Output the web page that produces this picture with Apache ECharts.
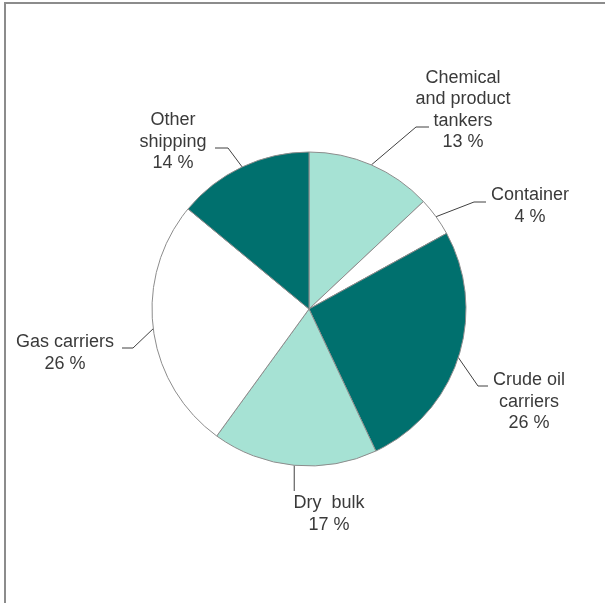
<!DOCTYPE html>
<html>
<head>
<meta charset="utf-8">
<script src="https://cdn.jsdelivr.net/npm/echarts@6/dist/echarts.min.js"></script>
<style>
  html, body { margin: 0; padding: 0; background: #fff; }
  #chart { width: 605px; height: 603px; }
</style>
</head>
<body>
<div id="chart"></div>
<script>
// data
var categories = ["Chemical\nand product\ntankers", "Container", "Crude oil\ncarriers", "Dry  bulk", "Gas carriers", "Other\nshipping"];
var shares = [13, 4, 26, 17, 26, 14];
var sliceColors = ["#a6e2d4", "#ffffff", "#00706e", "#a6e2d4", "#ffffff", "#00706e"];

// label block centres and leader line bends (px)
var labelPos = [
  { x: 463, y: 110, bend: [[416, 127], [429, 127]] },
  { x: 530, y: 206, bend: [[474, 202], [486, 202]] },
  { x: 529, y: 402, bend: [[478, 386], [488, 386]] },
  { x: 329, y: 514, bend: [[296, 491]] },
  { x: 65, y: 353, bend: [[133, 348], [122, 348]] },
  { x: 173, y: 142, bend: [[228, 148], [215, 148]] }
];

var chart = echarts.init(document.getElementById("chart"));

var option = {
  animation: false,
  graphic: [
    { type: "line", shape: { x1: 4, y1: 3, x2: 605, y2: 3 }, style: { stroke: "#8c8c8c", lineWidth: 2 } },
    { type: "line", shape: { x1: 5, y1: 2, x2: 5, y2: 603 }, style: { stroke: "#8c8c8c", lineWidth: 2 } }
  ],
  series: [
    {
      type: "pie",
      center: [309, 309],
      radius: 157,
      startAngle: 90,
      clockwise: true,
      silent: true,
      itemStyle: { borderColor: "#8c8c8c", borderWidth: 1 },
      label: {
        show: true,
        position: "outside",
        color: "#3a3a3a",
        fontFamily: "Liberation Sans, Arial, sans-serif",
        fontSize: 18,
        lineHeight: 21.5,
        align: "center",
        formatter: function (p) { return p.name + "\n" + p.value + " %"; }
      },
      labelLine: { show: true, length: 20, length2: 10, lineStyle: { color: "#404040", width: 1 } },
      labelLayout: function (params) {
        var lp = labelPos[params.dataIndex];
        var start = params.labelLinePoints ? params.labelLinePoints[0] : lp.bend[0];
        var bend = lp.bend;
        // single bend point: keep the leader vertical
        if (bend.length === 1) {
          bend = [[start[0], bend[0][1]]];
        }
        return {
          x: lp.x,
          y: lp.y,
          align: "center",
          verticalAlign: "middle",
          labelLinePoints: [start].concat(bend)
        };
      },
      data: categories.map(function (name, i) {
        return { name: name, value: shares[i], itemStyle: { color: sliceColors[i] } };
      })
    }
  ]
};

chart.setOption(option);
</script>
</body>
</html>
